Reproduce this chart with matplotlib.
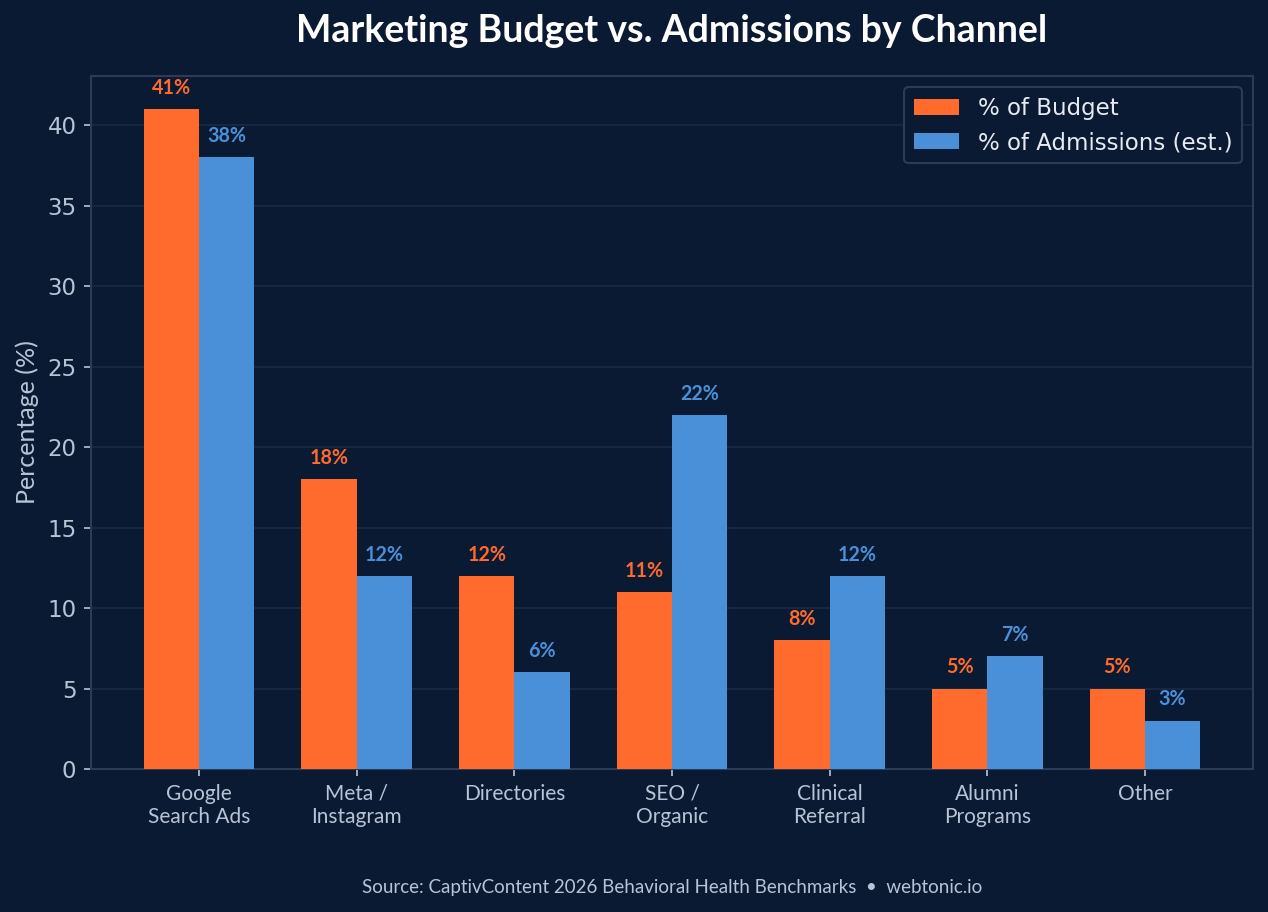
import matplotlib
matplotlib.use("Agg")
import matplotlib.pyplot as plt
import numpy as np

categories = ["Google\nSearch Ads", "Meta /\nInstagram", "Directories", "SEO /\nOrganic",
              "Clinical\nReferral", "Alumni\nPrograms", "Other"]
budget = [41, 18, 12, 11, 8, 5, 5]
admissions = [38, 12, 6, 22, 12, 7, 3]
series_names = ["% of Budget", "% of Admissions (est.)"]

BG = "#0b1a33"
ORANGE = "#ff6b2c"
BLUE = "#4a90d9"
SPINE = "#2c3b58"
GRID = "#1b2a45"
TICK = "#b8c4d6"

fig = plt.figure(figsize=(1268/150, 912/150), dpi=150, facecolor=BG)
ax = fig.add_axes([91/1268, 1-769/912, (1253-91)/1268, (769-76)/912])
ax.set_facecolor(BG)

x = np.arange(len(categories))
w = 0.35
ax.bar(x - w/2, budget, w, color=ORANGE, label=series_names[0], zorder=3)
ax.bar(x + w/2, admissions, w, color=BLUE, label=series_names[1], zorder=3)

for xi, v in zip(x - w/2, budget):
    ax.text(xi, v + 0.7, f"{v}%", ha="center", va="bottom", color=ORANGE,
            fontsize=9.5, fontweight="bold", family="Lato")
for xi, v in zip(x + w/2, admissions):
    ax.text(xi, v + 0.7, f"{v}%", ha="center", va="bottom", color=BLUE,
            fontsize=9.5, fontweight="bold", family="Lato")

ax.set_ylim(0, 43.05)
ax.set_yticks(np.arange(0, 41, 5))
ax.set_xticks(x)
ax.set_xticklabels(categories, family="Lato", fontsize=10, color=TICK)
ax.tick_params(axis="y", labelsize=11, labelcolor=TICK, color=TICK)
ax.tick_params(axis="x", color=TICK)
ax.yaxis.grid(True, color=GRID, linewidth=0.8, zorder=0)
ax.set_axisbelow(True)
for s in ax.spines.values():
    s.set_color(SPINE)
    s.set_linewidth(1.0)

ax.set_ylabel("Percentage (%)", family="Lato", fontsize=12, color=TICK)

leg = ax.legend(loc="upper right", fontsize=11, facecolor=BG, edgecolor=SPINE,
                labelcolor="#e6ebf2", framealpha=1.0)

fig.text(0.53, 1-31/912, "Marketing Budget vs. Admissions by Channel", ha="center", va="center",
         family="Lato", fontweight="bold", fontsize=18, color="white")
fig.text(0.53, 1-887/912, "Source: CaptivContent 2026 Behavioral Health Benchmarks  •  webtonic.io",
         ha="center", va="center", family="Lato", fontsize=9, color=TICK)

fig.savefig("out.png", dpi=150, facecolor=BG)
